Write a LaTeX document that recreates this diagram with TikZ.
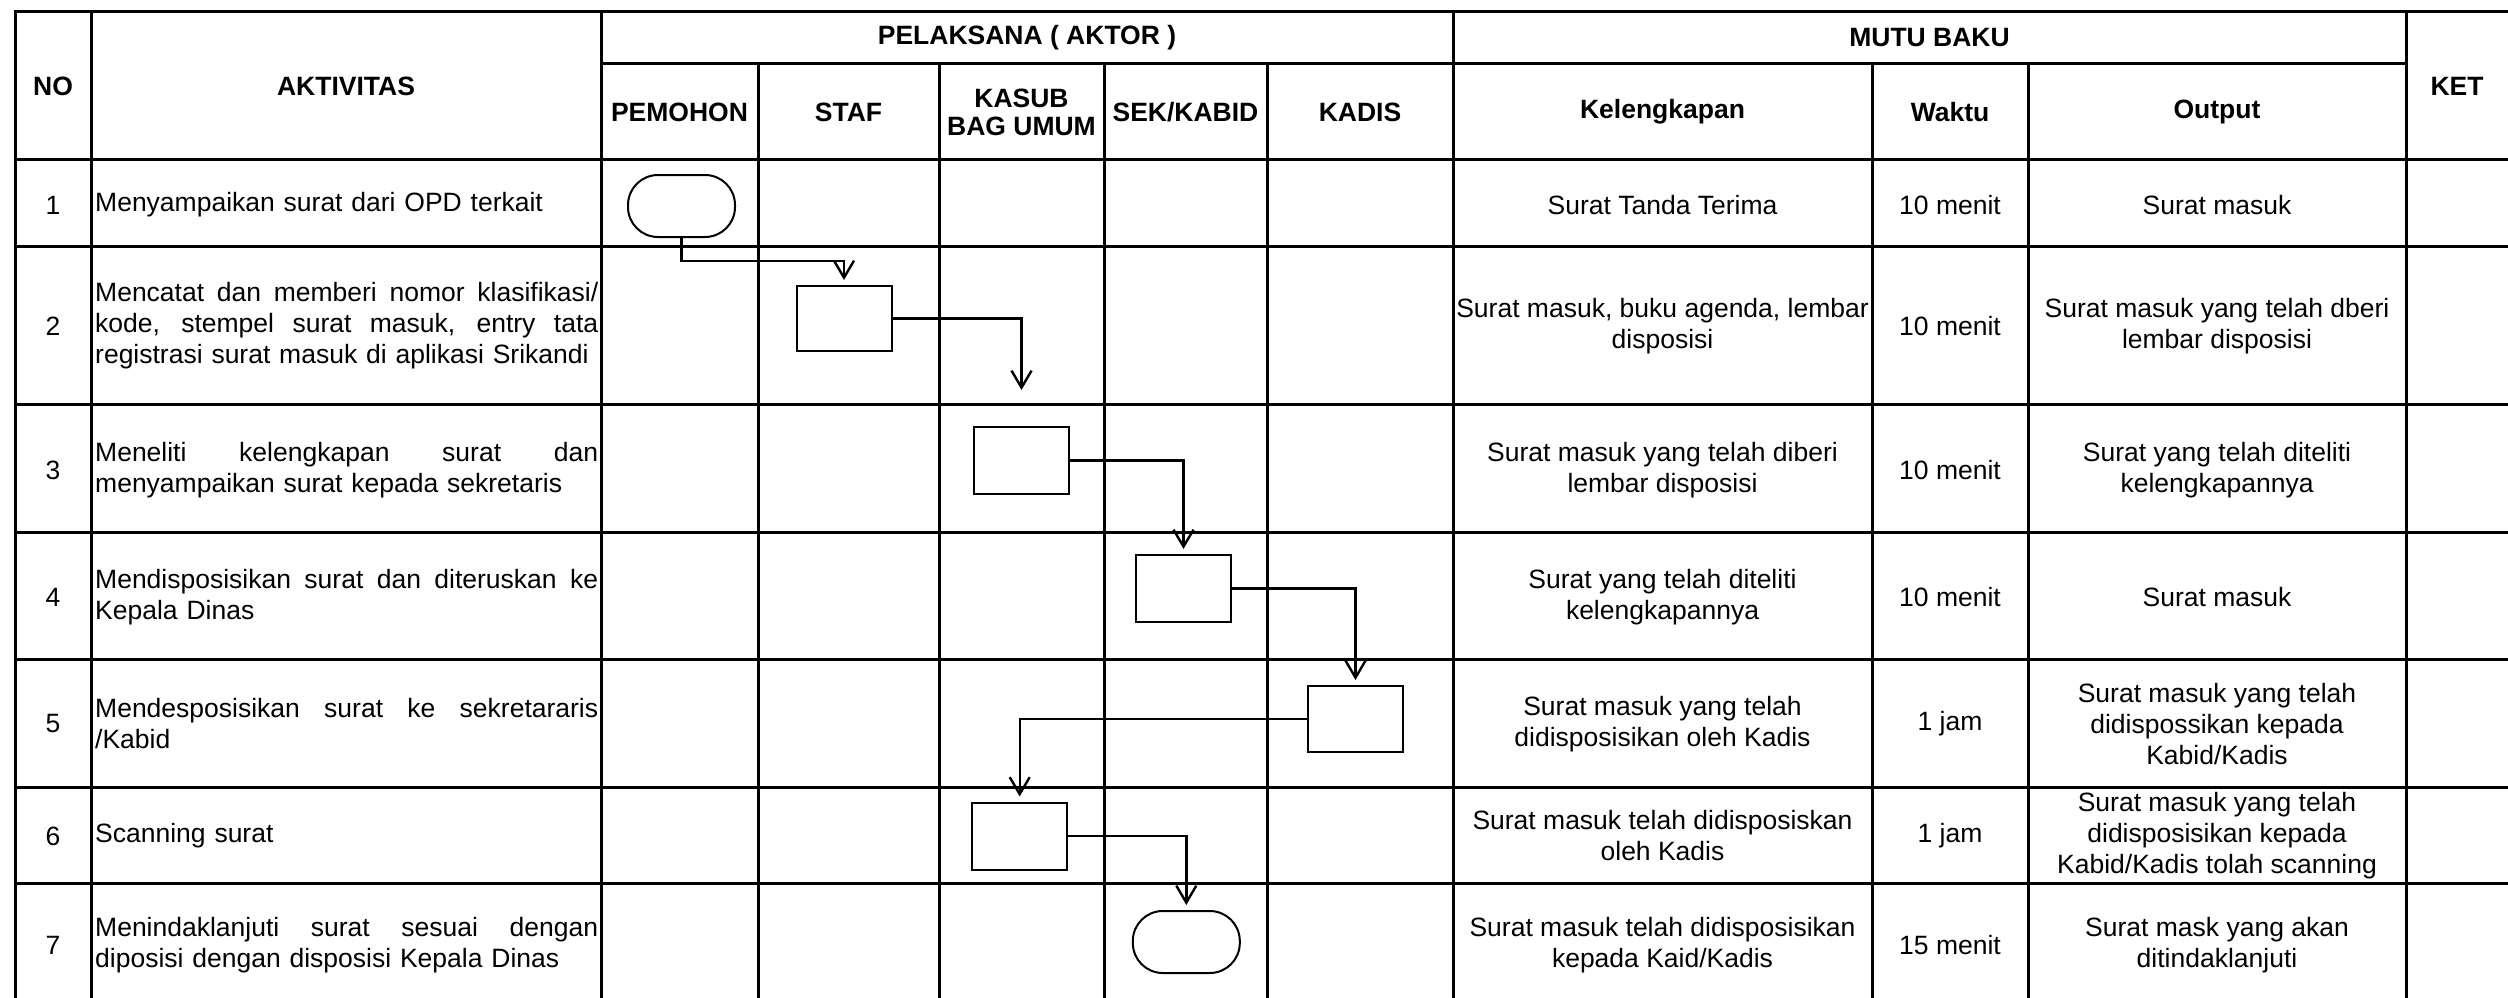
\documentclass[tikz,border=0pt]{standalone}
\usepackage{fontspec}
\setmainfont{Liberation Sans}
\usetikzlibrary{arrows.meta}
\newcommand\jl[1]{\leavevmode\hbox to 503pt{\spaceskip=0.278em plus 1fil\relax\xspaceskip=0.278em plus 1fil\relax #1}}
\begin{document}
\begin{tikzpicture}[x=1pt,y=-1pt,
  grid/.style={line width=3pt, line cap=rect},
  hd/.style={font=\fontsize{26.5}{28}\selectfont\bfseries, align=center, inner sep=0pt},
  tx/.style={font=\fontsize{26.5}{31}\selectfont, align=center, inner sep=0pt},
  act/.style={font=\fontsize{26.5}{31}\selectfont, align=left, text width=503pt, inner sep=0pt, anchor=west},
  proc/.style={draw, line width=2pt, minimum width=95pt, minimum height=66pt, inner sep=0pt},
  term/.style={draw, line width=2pt, minimum width=107pt, minimum height=62pt, rounded corners=30pt, inner sep=0pt},
  flow/.style={line width=2.4pt, -{Straight Barb[length=17pt,width=20pt]}, shorten >=5pt},
]
\useasboundingbox (0,0) rectangle (2508,998);
\clip (0,0) rectangle (2508,998);
% grid
\draw[grid] (15,11.5) -- (2510,11.5);
\draw[grid] (601,63.5) -- (2406,63.5);
\foreach \yy in {159,246,404,532,659,787,883}
  \draw[grid] (15,\yy) -- (2510,\yy);
\foreach \xx in {15,91,601,1453,2406}
  \draw[grid] (\xx,11.5) -- (\xx,1002);
\foreach \xx in {758,939,1104,1267,1872,2028}
  \draw[grid] (\xx,63.5) -- (\xx,1002);
% header
\node[hd] (hNO) at (53,86) {NO};
\node[hd] (hAkt) at (346,86) {AKTIVITAS};
\node[hd] (hPel) at (1027,38) {PELAKSANA ( AKTOR )};
\node[hd] (hMutu) at (1929.5,38) {MUTU BAKU};
\node[hd] (hKet) at (2457,86) {KET};
\node[hd] (hPem) at (679.5,112) {PEMOHON};
\node[hd] (hStaf) at (848.5,112) {STAF};
\node[hd] (hKas) at (1021.5,112) {KASUB\\BAG UMUM};
\node[hd] (hSek) at (1185.5,112) {SEK/KABID};
\node[hd] (hKadis) at (1360,112) {KADIS};
\node[hd] (hKel) at (1662.5,112) {Kelengkapan};
\node[hd] (hWak) at (1950,112) {Waktu};
\node[hd] (hOut) at (2217,112) {Output};
% numbers
\node[tx] (n1) at (53,205) {1};
\node[tx] (n2) at (53,326) {2};
\node[tx] (n3) at (53,470) {3};
\node[tx] (n4) at (53,597) {4};
\node[tx] (n5) at (53,724) {5};
\node[tx] (n6) at (53,836) {6};
\node[tx] (n7) at (53,945) {7};
% activities
\node[act] (a1) at (95,205) {Menyampaikan surat dari OPD terkait};
\node[act] (a2) at (95,326) {\jl{Mencatat dan memberi nomor klasifikasi/}\\\jl{kode, stempel surat masuk, entry tata}\\registrasi surat masuk di aplikasi Srikandi};
\node[act] (a3) at (95,470) {\jl{Meneliti kelengkapan surat dan}\\menyampaikan surat kepada sekretaris};
\node[act] (a4) at (95,597) {\jl{Mendisposisikan surat dan diteruskan ke}\\Kepala Dinas};
\node[act] (a5) at (95,724) {\jl{Mendesposisikan surat ke sekretararis}\\/Kabid};
\node[act] (a6) at (95,836) {Scanning surat};
\node[act] (a7) at (95,945) {\jl{Menindaklanjuti surat sesuai dengan}\\diposisi dengan disposisi Kepala Dinas};
% kelengkapan
\node[tx] (k1) at (1662.5,205) {Surat Tanda Terima};
\node[tx] (k2) at (1662.5,326) {Surat masuk, buku agenda, lembar\\disposisi};
\node[tx] (k3) at (1662.5,470) {Surat masuk yang telah diberi\\lembar disposisi};
\node[tx] (k4) at (1662.5,597) {Surat yang telah diteliti\\kelengkapannya};
\node[tx] (k5) at (1662.5,724) {Surat masuk yang telah\\didisposisikan oleh Kadis};
\node[tx] (k6) at (1662.5,836) {Surat masuk telah didisposiskan\\oleh Kadis};
\node[tx] (k7) at (1662.5,945) {Surat masuk telah didisposisikan\\kepada Kaid/Kadis};
% waktu
\node[tx] (w1) at (1950,205) {10 menit};
\node[tx] (w2) at (1950,326) {10 menit};
\node[tx] (w3) at (1950,470) {10 menit};
\node[tx] (w4) at (1950,597) {10 menit};
\node[tx] (w5) at (1950,724) {1 jam};
\node[tx] (w6) at (1950,836) {1 jam};
\node[tx] (w7) at (1950,945) {15 menit};
% output
\node[tx] (o1) at (2217,205) {Surat masuk};
\node[tx] (o2) at (2217,326) {Surat masuk yang telah dberi\\lembar disposisi};
\node[tx] (o3) at (2217,470) {Surat yang telah diteliti\\kelengkapannya};
\node[tx] (o4) at (2217,597) {Surat masuk};
\node[tx] (o5) at (2217,724) {Surat masuk yang telah\\didispossikan kepada\\Kabid/Kadis};
\node[tx] (o6) at (2217,836) {Surat masuk yang telah\\didisposisikan kepada\\Kabid/Kadis tolah scanning};
\node[tx] (o7) at (2217,945) {Surat mask yang akan\\ditindaklanjuti};
% flow shapes
\node[term] (t1) at (681.5,206) {};
\node[proc, minimum height=65pt] (b2) at (844,318.5) {};
\node[proc, minimum height=67pt] (b3) at (1021.5,460.5) {};
\node[proc, minimum height=67pt] (b4) at (1183.5,588.5) {};
\node[proc] (b5) at (1355.5,719) {};
\node[proc, minimum height=67pt] (b6) at (1019.7,836) {};
\node[term] (t7) at (1186.3,942) {};
% connectors
\draw[flow] (t1.south) -- ++(0,23) -| (b2.north);
\draw[flow, shorten >=36pt] (b2.east) -| (b3.north);
\draw[flow] (b3.east) -| (b4.north);
\draw[flow] (b4.east) -| (b5.north);
\draw[flow] (b5.west) -| (b6.north);
\draw[flow] (b6.east) -| (t7.north);
\end{tikzpicture}
\end{document}
